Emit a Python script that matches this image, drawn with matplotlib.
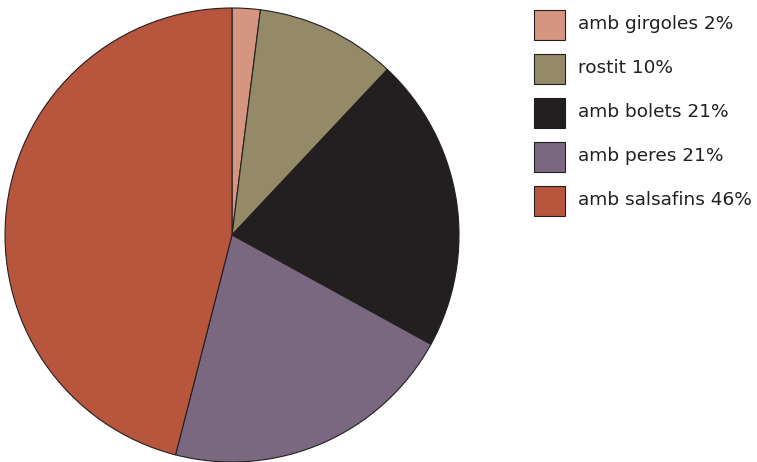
import matplotlib
matplotlib.use('Agg')
from matplotlib import pyplot as plt
from matplotlib.patches import Rectangle

labels = ['amb girgoles', 'rostit', 'amb bolets', 'amb peres', 'amb salsafins']
values = [2, 10, 21, 21, 46]
colors = ['#D69580', '#958A67', '#231F20', '#7A6880', '#B8553D']

W, H = 757, 462
fig = plt.figure(figsize=(W / 100, H / 100), dpi=100)

# pie axes: centre ~(232, 235), radius ~227 px
cx, cy, r = 232, 235, 227
ax = fig.add_axes([(cx - r) / W, 1 - (cy + r) / H, 2 * r / W, 2 * r / H])
ax.pie(values, colors=colors, startangle=90, counterclock=False,
       radius=1.0, wedgeprops=dict(edgecolor='#231F20', linewidth=0.8))
ax.set_xlim(-1, 1)
ax.set_ylim(-1, 1)
ax.set_aspect('equal')
ax.axis('off')

# legend, drawn by hand in pixel coords
x0, y0, step = 534, 10, 44
for i, (lab, v, c) in enumerate(zip(labels, values, colors)):
    top = y0 + i * step
    fig.patches.append(Rectangle((x0 / W, 1 - (top + 30) / H), 31 / W, 30 / H,
                                 transform=fig.transFigure, facecolor=c,
                                 edgecolor='#231F20', linewidth=0.8))
    fig.text(578 / W, 1 - (top + 14) / H, f'{lab} {v}%', fontsize=13.3,
             color='#231F20', va='center', ha='left', family='DejaVu Sans')

fig.savefig('out.png', dpi=100)
